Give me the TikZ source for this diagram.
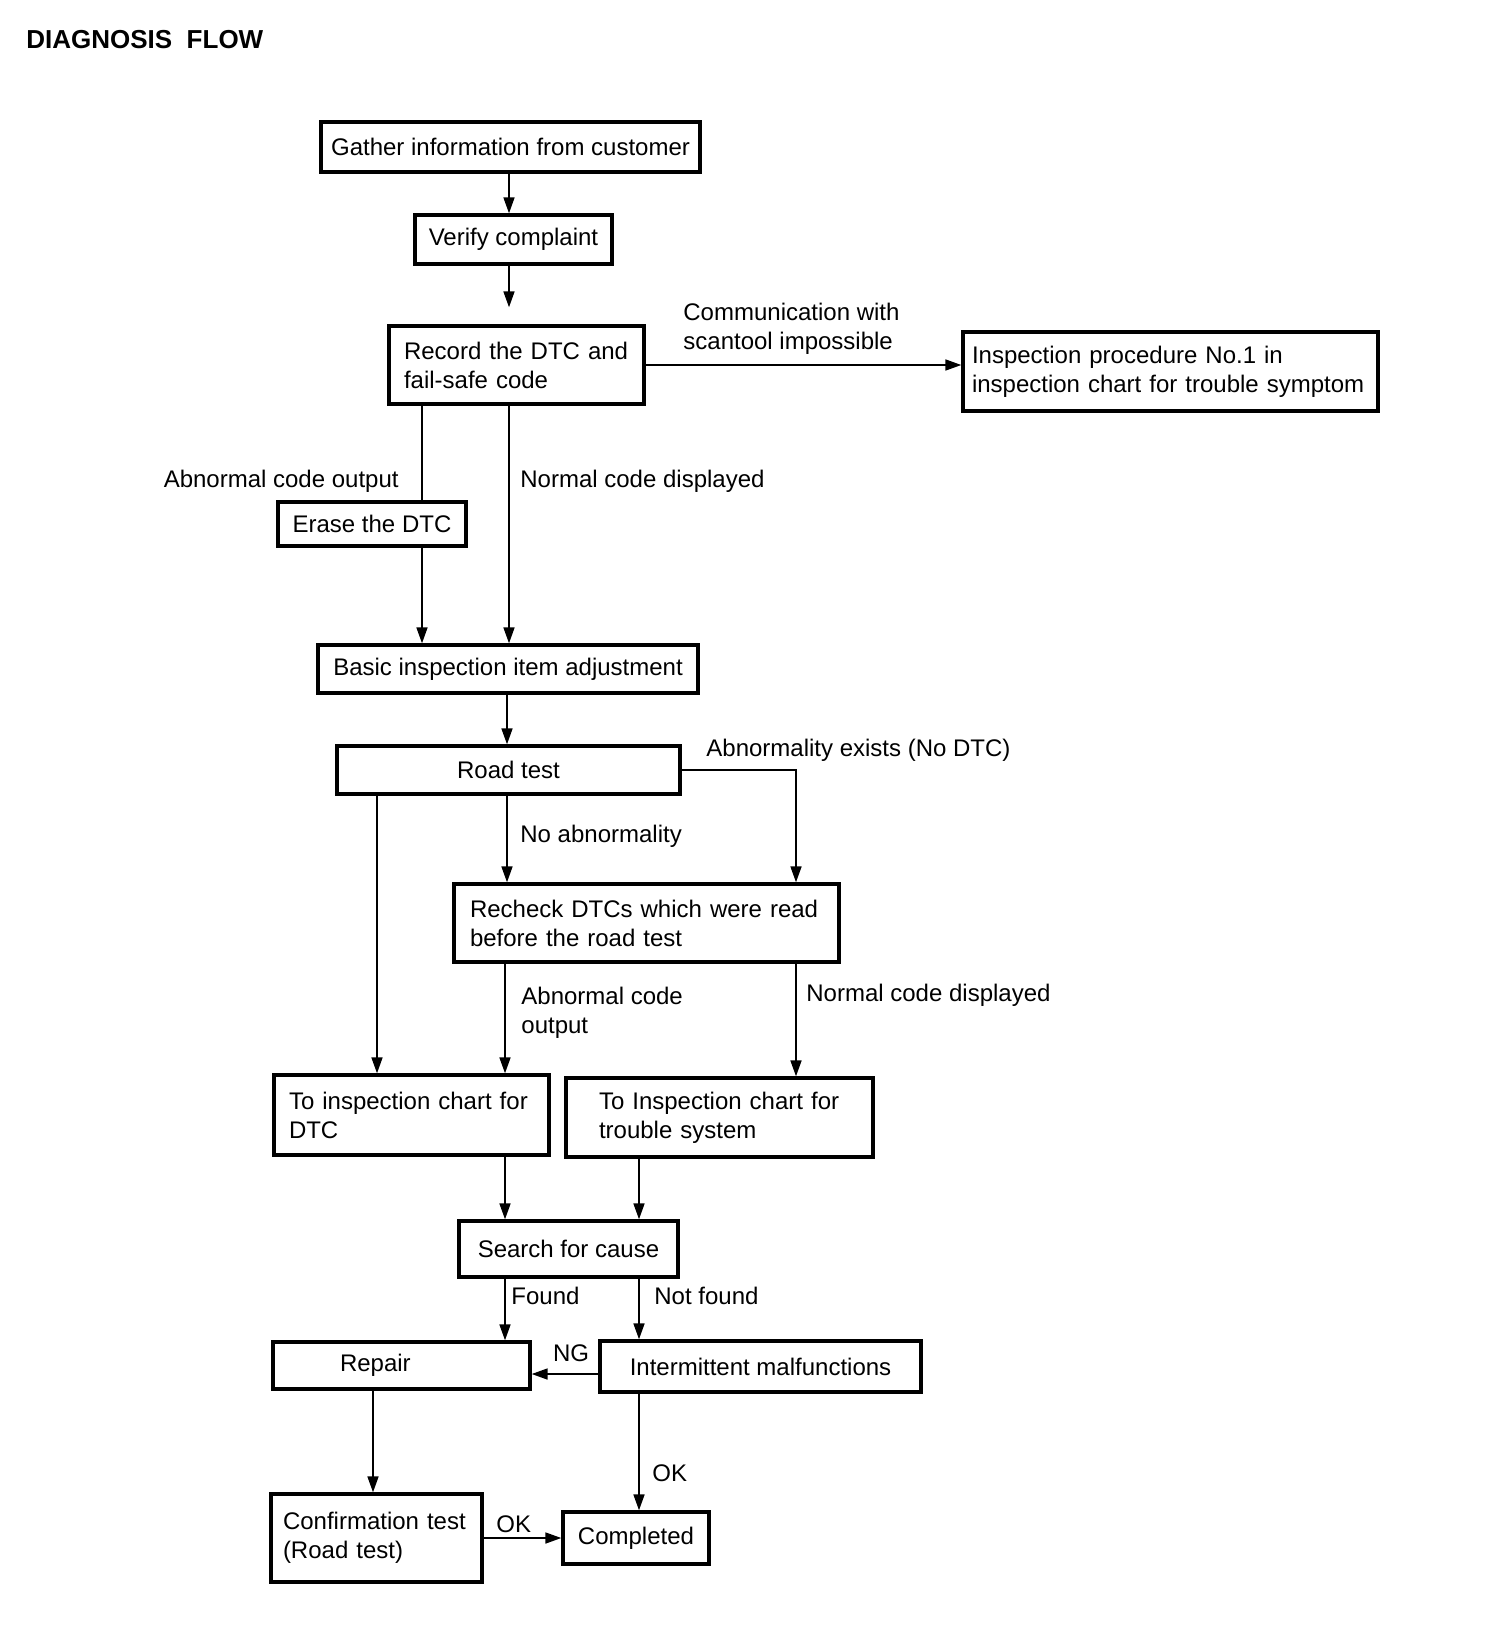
\documentclass[tikz,border=0pt]{standalone}
\usepackage{fontspec}
\setmainfont{Liberation Sans}
\usetikzlibrary{arrows.meta, positioning}

\tikzset{
  box/.style={draw, line width=1.6pt, inner sep=0pt, font=\fontsize{12}{14.5}\selectfont},
  lbox/.style={box, align=left},
  flow/.style={line width=1.1pt, -{Triangle[length=8pt,width=5.4pt]}},
  link/.style={line width=1.1pt},
  lbl/.style={font=\fontsize{12}{14.5}\selectfont, inner sep=0pt, align=left},
  heading/.style={font=\fontsize{13}{15}\selectfont\bfseries, inner sep=0pt},
}

\begin{document}
\begin{tikzpicture}[x=0.5pt, y=-0.5pt]
\useasboundingbox (0,0) rectangle (1504,1632);

\node[heading, anchor=west] (title) at (26,40) {DIAGNOSIS\ \ FLOW};

% Boxes
\node[box, minimum width=189.5pt, minimum height=25pt] (gather) at (510.5,147) {Gather information from customer};
\node[box, minimum width=98.5pt, minimum height=24.5pt] (verify) at (513.5,239.5) {Verify complaint};
\node[lbox, inner xsep=7.5pt, text width=112.5pt, minimum height=39pt] (record) at (516.5,365) {Record the DTC and\\fail-safe code};
\node[lbox, inner xsep=4.5pt, text width=198.5pt, minimum height=39.5pt] (insp) at (1170.5,371.5) {Inspection procedure No.1 in\\inspection chart for trouble symptom};
\node[box, minimum width=94pt, minimum height=22pt] (erase) at (372,524) {Erase the DTC};
\node[box, minimum width=190pt, minimum height=24pt] (basic) at (508,669) {Basic inspection item adjustment};
\node[box, minimum width=171.5pt, minimum height=24pt] (road) at (508.5,770) {Road test};
\node[lbox, inner xsep=8pt, text width=176.5pt, minimum height=39pt] (recheck) at (646.5,923) {Recheck DTCs which were read\\before the road test};
\node[lbox, inner xsep=7.5pt, text width=122.5pt, minimum height=40pt] (todtc) at (411.5,1115) {To inspection chart for\\DTC};
\node[lbox, inner xsep=16.5pt, text width=120.5pt, minimum height=39.5pt] (totrouble) at (719.5,1117.5) {To Inspection chart for\\trouble system};
\node[box, minimum width=109.5pt, minimum height=28pt] (search) at (568.5,1249) {Search for cause};
\node[lbox, inner xsep=33.5pt, text width=61.5pt, minimum height=23.5pt] (repair) at (401.5,1365.5) {Repair};
\node[box, minimum width=160.5pt, minimum height=25.5pt] (intermit) at (760.5,1366.5) {Intermittent malfunctions};
\node[lbox, inner xsep=6pt, text width=93.5pt, minimum height=44pt] (confirm) at (376.5,1538) {Confirmation test\\(Road test)};
\node[box, minimum width=73pt, minimum height=26pt] (completed) at (636,1538) {Completed};

% Columns and rows for the connectors
\coordinate (c1) at (509,0);
\coordinate (c2) at (422,0);
\coordinate (c3) at (507,0);
\coordinate (c4) at (377,0);
\coordinate (c5) at (796,0);
\coordinate (c6) at (505,0);
\coordinate (c7) at (639,0);
\coordinate (c8) at (373,0);
\coordinate (ngrow) at (0,1374);

% Connectors
\draw[flow] (gather.south -| c1) -- (verify.north -| c1);
\draw[flow, shorten >=8.5pt] (verify.south -| c1) -- (record.north -| c1);
\draw[flow] (record.east) -- (record.east -| insp.west);
\draw[link] (record.south -| c2) -- (erase.north -| c2);
\draw[flow] (erase.south -| c2) -- (basic.north -| c2);
\draw[flow] (record.south -| c1) -- (basic.north -| c1);
\draw[flow] (basic.south -| c3) -- (road.north -| c3);
\draw[flow] (road.east) -| (recheck.north -| c5);
\draw[flow] (road.south -| c3) -- (recheck.north -| c3);
\draw[flow] (road.south -| c4) -- (todtc.north -| c4);
\draw[flow] (recheck.south -| c6) -- (todtc.north -| c6);
\draw[flow] (recheck.south -| c5) -- (totrouble.north -| c5);
\draw[flow] (todtc.south -| c6) -- (search.north -| c6);
\draw[flow] (totrouble.south -| c7) -- (search.north -| c7);
\draw[flow] (search.south -| c6) -- (repair.north -| c6);
\draw[flow] (search.south -| c7) -- (intermit.north -| c7);
\draw[flow] (intermit.west |- ngrow) -- (repair.east |- ngrow);
\draw[flow] (repair.south -| c8) -- (confirm.north -| c8);
\draw[flow] (intermit.south -| c7) -- (completed.north -| c7);
\draw[flow] (confirm.east) -- (completed.west);

% Labels
\node[lbl, anchor=west] (comm) at (683,328.5) {Communication with\\scantool impossible};
\node[lbl, anchor=east] (abn1) at (399,481) {Abnormal code output};
\node[lbl, anchor=west] (norm1) at (520,481) {Normal code displayed};
\node[lbl, anchor=west] (abnex) at (706,750) {Abnormality exists (No DTC)};
\node[lbl, anchor=west] (noab) at (520,836) {No abnormality};
\node[lbl, anchor=west] (abn2) at (521,1013) {Abnormal code\\output};
\node[lbl, anchor=west] (norm2) at (806,995) {Normal code displayed};
\node[lbl, anchor=west] (found) at (511,1296) {Found};
\node[lbl, anchor=west] (notfound) at (654,1296) {Not found};
\node[lbl] (ng) at (571,1353) {NG};
\node[lbl, anchor=west] (ok1) at (652,1473) {OK};
\node[lbl, anchor=west] (ok2) at (496,1524) {OK};
\end{tikzpicture}
\end{document}
